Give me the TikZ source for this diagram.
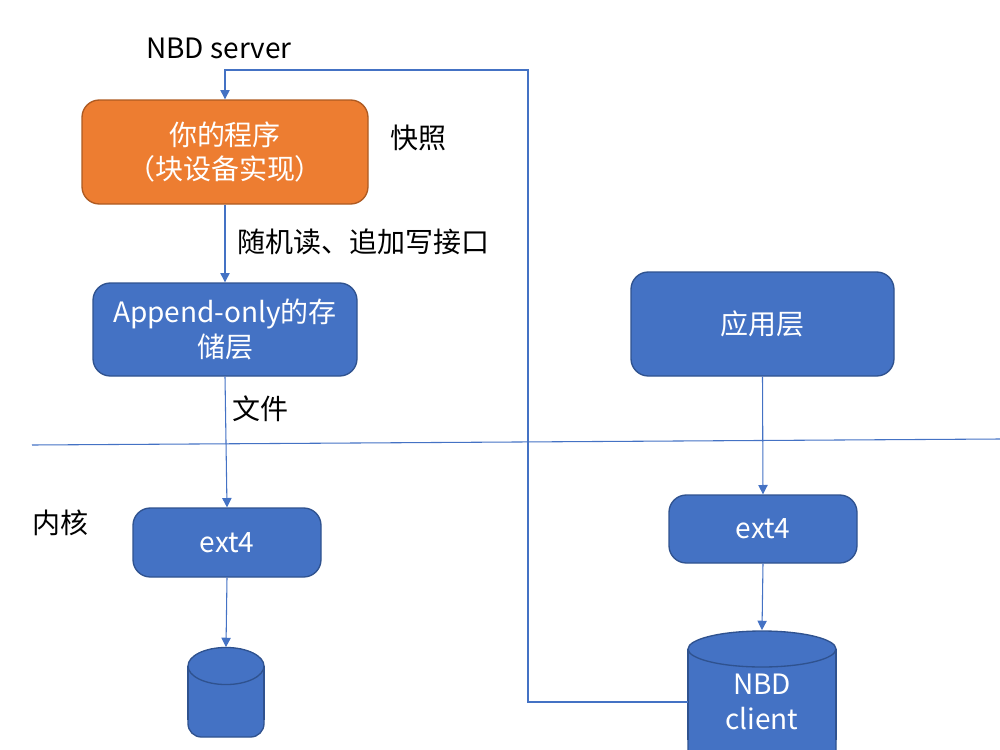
\documentclass[tikz,border=0pt]{standalone}
\usepackage{fontspec}
\setmainfont{Noto Sans CJK SC}
\usetikzlibrary{arrows.meta}
\definecolor{bfill}{HTML}{4472C4}
\definecolor{bdraw}{HTML}{2F528F}
\definecolor{ofill}{HTML}{ED7D31}
\definecolor{odraw}{HTML}{AE5A21}
\begin{document}
\begin{tikzpicture}[x=0.75pt,y=-0.75pt,
  txt/.style={font=\fontsize{21}{26}\selectfont, inner sep=0pt},
  bluebox/.style={draw=bdraw, fill=bfill, line width=1pt, rounded corners=13pt,
     text=white, align=center, font=\fontsize{21}{26}\selectfont, inner sep=0pt},
  orangebox/.style={bluebox, draw=odraw, fill=ofill},
  conn/.style={draw=bfill, line width=0.8pt, -{Triangle[length=7pt,width=7pt]}},
  plain/.style={draw=bfill, line width=0.8pt},
  cylbody/.style={draw=bdraw, fill=bfill, line width=1pt}]
\useasboundingbox (0,0) rectangle (1000,750);
\clip (0,0) rectangle (1000,750);

% boxes
\node[orangebox, minimum width=214.5pt, minimum height=78pt] (prog) at (225,152) {你的程序\\（块设备实现）};
\node[bluebox, minimum width=198pt, minimum height=69.75pt] (store) at (225,329.5) {Append-only的存\\储层};
\node[bluebox, minimum width=197.25pt, minimum height=78pt] (app) at (762.5,324) {应用层};
\node[bluebox, minimum width=141pt, minimum height=51.75pt] (extL) at (227,542.5) {ext4};
\node[bluebox, minimum width=141pt, minimum height=51pt] (extR) at (763,529) {ext4};

% left cylinder
\path[cylbody, rounded corners=10pt] (188,666) -- (188,737) -- (264,737) -- (264,666);
\path[fill=bfill] (188.6,666) rectangle (263.4,700);
\draw[draw=bdraw, line width=1pt] (188,666) -- (188,720);
\draw[draw=bdraw, line width=1pt] (264,666) -- (264,720);
\path[cylbody] (226,666) ellipse [x radius=28.5pt, y radius=13.9pt];
\node[inner sep=0pt, minimum width=57pt, minimum height=1pt] (cylL) at (226,648) {};

% right cylinder
\path[cylbody, rounded corners=12pt] (688,649) -- (688,770) -- (836,770) -- (836,649);
\draw[draw=bdraw, line width=1pt] (688,649) -- (688,740);
\draw[draw=bdraw, line width=1pt] (836,649) -- (836,740);
\path[cylbody] (762,649) ellipse [x radius=55.5pt, y radius=13.5pt];
\node[inner sep=0pt, minimum width=1pt, minimum height=1pt] (cylRtop) at (762,631) {};
\node[txt, text=white, align=center, minimum width=111pt] (cylR) at (762,702) {NBD\\client};

% divider
\coordinate (d1) at (32,445);
\coordinate (d2) at (1000,439);
\draw[plain] (d1) -- (d2);

% labels
\node[txt] (server) at (219,48) {NBD server};
\node[txt, anchor=west] (snap) at (390,138) {快照};
\node[txt, anchor=west] (iface) at (237,242) {随机读、追加写接口};
\node[txt, anchor=west] (file) at (232,409) {文件};
\node[txt, anchor=west] (kern) at (32,523) {内核};

% connectors
\draw[conn] (prog.south) -- (store.north);
\draw[conn] (store.south) -- (extL.north);
\draw[conn] (extL.south) -- (cylL.north);
\draw[conn] (app.south) -- (extR.north);
\draw[conn] (extR.south) -- (cylRtop.north);
\coordinate (turn) at (528,70);
\draw[conn] (cylR.west) -| (turn) -| (prog.north);
\end{tikzpicture}
\end{document}
